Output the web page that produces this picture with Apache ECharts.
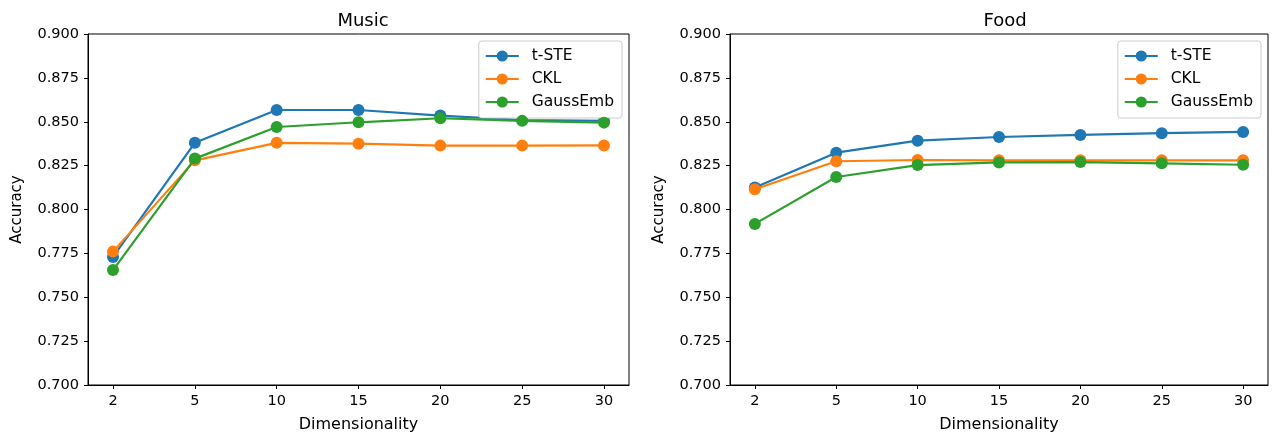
<!DOCTYPE html>
<html><head><meta charset="utf-8">
<script src="https://cdn.jsdelivr.net/npm/echarts@6/dist/echarts.min.js"></script>
<style>html,body{margin:0;padding:0;background:#fff}#c{width:1274px;height:438px}</style>
</head><body><div id="c"></div>
<script>
const categories = ['2','5','10','15','20','25','30'];
const seriesNames = ['t-STE','CKL','GaussEmb'];
const colors = ['#1f77b4','#ff7f0e','#2ca02c'];
const musicTSTE = [0.773, 0.838, 0.8567, 0.8567, 0.8535, 0.851, 0.8505];
const musicCKL = [0.776, 0.828, 0.838, 0.8375, 0.8364, 0.8364, 0.8365];
const musicGauss = [0.7655, 0.829, 0.847, 0.8497, 0.852, 0.8505, 0.8495];
const foodTSTE = [0.8125, 0.8324, 0.8392, 0.8413, 0.8425, 0.8435, 0.8442];
const foodCKL = [0.8115, 0.8275, 0.8282, 0.828, 0.828, 0.828, 0.828];
const foodGauss = [0.7918, 0.8185, 0.8253, 0.8268, 0.8270, 0.8263, 0.8255];
const yTicks = [0.700,0.725,0.750,0.775,0.800,0.825,0.850,0.875,0.900];
const titles = ['Music','Food'];

const font = 'DejaVu Sans';
const idx = categories.map((_, i) => i);
const pad = 0.3056;
const grids = [
  {left: 88, top: 34, width: 541, height: 351, show: true, borderColor: '#000', borderWidth: 1, backgroundColor: 'transparent'},
  {left: 730, top: 34, width: 538, height: 351, show: true, borderColor: '#000', borderWidth: 1, backgroundColor: 'transparent'}
];
function xAxis(g){
  return {type:'value', gridIndex:g, min:-pad, max:categories.length-1+pad,
    name:'Dimensionality', nameLocation:'middle', nameGap:32,
    nameTextStyle:{fontFamily:font,fontSize:16,color:'#000'},
    axisLine:{show:true,onZero:false,lineStyle:{color:'#000',width:1}},
    splitLine:{show:false},
    axisTick:{show:true,length:4,inside:false,lineStyle:{color:'#000'},customValues:idx},
    axisLabel:{fontFamily:font,fontSize:14.5,color:'#000',margin:9,customValues:idx,
      formatter:v=>categories[Math.round(v)]}};
}
function yAxis(g){
  return {type:'value', gridIndex:g, min:0.7, max:0.9, interval:0.025,
    name:'Accuracy', nameLocation:'middle', nameGap:63, nameRotate:90,
    nameTextStyle:{fontFamily:font,fontSize:15,color:'#000'},
    axisLine:{show:true,onZero:false,lineStyle:{color:'#000',width:1}},
    splitLine:{show:false},
    axisTick:{show:true,length:4,inside:false,lineStyle:{color:'#000'}},
    axisLabel:{fontFamily:font,fontSize:14.5,color:'#000',margin:9,
      formatter:v=>v.toFixed(3)}};
}
const data = [[musicTSTE,musicCKL,musicGauss],[foodTSTE,foodCKL,foodGauss]];
const series = [];
data.forEach((panel,g)=>{
  panel.forEach((vals,k)=>{
    series.push({type:'line', name:seriesNames[k], xAxisIndex:g, yAxisIndex:g,
      data: vals.map((v,i)=>[i,v]), symbol:'circle', symbolSize:12,
      itemStyle:{color:colors[k]}, lineStyle:{color:colors[k],width:2.2},
      z: 2+k, animation:false});
  });
});
function legend(rightPx){
  return {orient:'vertical', right:rightPx, top:41, itemWidth:33, itemHeight:14, itemGap:7,
    padding:[7,8,8,6], backgroundColor:'#fff', borderColor:'#ccc', borderWidth:1, borderRadius:3,
    textStyle:{fontFamily:font,fontSize:15.5,color:'#000',padding:[0,0,0,8]}, data:seriesNames, selectedMode:false};
}
const chart = echarts.init(document.getElementById('c'), null, {renderer:'canvas'});
chart.setOption({
  animation:false,
  title:[
    {text:titles[0], left:358, top:7, textAlign:'center', textStyle:{fontFamily:font,fontSize:18,fontWeight:'normal',color:'#000'}},
    {text:titles[1], left:1000, top:7, textAlign:'center', textStyle:{fontFamily:font,fontSize:18,fontWeight:'normal',color:'#000'}}
  ],
  grid:grids,
  xAxis:[xAxis(0),xAxis(1)],
  yAxis:[yAxis(0),yAxis(1)],
  legend:[legend(1274-622), legend(1274-1261)],
  series:series
});
</script></body></html>
